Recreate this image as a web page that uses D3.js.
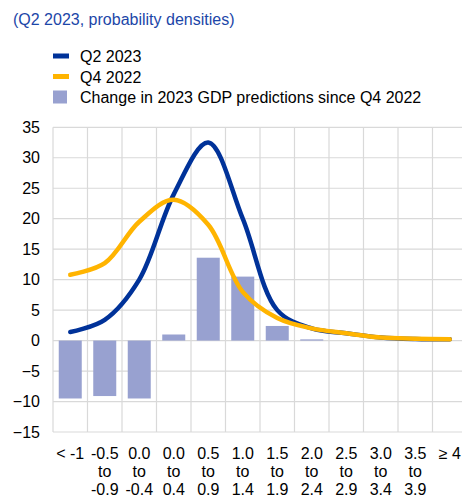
<!DOCTYPE html>
<html>
<head>
<meta charset="utf-8">
<script src="https://cdn.jsdelivr.net/npm/d3@7"></script>
<style>
  body { margin: 0; background: #fff; }
  text { font-family: "Liberation Sans", Arial, sans-serif; }
</style>
</head>
<body>
<div id="chart"></div>
<script>
// chart data

var categories = [["< -1"], ["-0.5", "to", "-0.9"], ["0.0", "to", "-0.4"], ["0.0", "to", "0.4"],
    ["0.5", "to", "0.9"], ["1.0", "to", "1.4"], ["1.5", "to", "1.9"], ["2.0", "to", "2.4"],
    ["2.5", "to", "2.9"], ["3.0", "to", "3.4"], ["3.5", "to", "3.9"], ["≥ 4"]]
var q2_2023 = [1.4, 3.4, 10.0, 24.0, 32.5, 20.0, 5.0, 2.0, 1.2, 0.5, 0.25, 0.2]
var q4_2022 = [10.8, 12.7, 19.5, 23.1, 19.0, 8.0, 3.7, 2.0, 1.2, 0.5, 0.3, 0.2]
var change = [-9.5, -9.1, -9.5, 1.0, 13.6, 10.5, 2.4, 0.2, 0, 0, 0, 0]
var yTicks = [35, 30, 25, 20, 15, 10, 5, 0, -5, -10, -15]

var legendItems = [
    {label: "Q2 2023", type: "line", color: "#003299"},
    {label: "Q4 2022", type: "line", color: "#FFB400"},
    {label: "Change in 2023 GDP predictions since Q4 2022", type: "bar", color: "#98A1D0"}
]

//setup SVG

var w = 462
var h = 497
var fs = 16

var svg = d3.select("#chart")
    .append("svg")
    .attr("width", w)
    .attr("height", h)

var plotLeft = 53, plotRight = 467, plotTop = 127.3, plotBottom = 432

var x = d3.scaleBand()
    .domain(d3.range(categories.length))
    .range([plotLeft, plotRight])
    .paddingInner(0)

var y = d3.scaleLinear()
    .domain([-15, 35])
    .range([plotBottom, plotTop])

// title
svg.append("text")
    .attr("x", 13)
    .attr("y", 25)
    .attr("fill", "#1c46a8")
    .attr("font-size", fs)
    .text("(Q2 2023, probability densities)")

// legend
var legend = svg.append("g")
legendItems.forEach(function(d, i) {
    var cy = 56 + i * 20.5
    if (d.type == "line") {
        legend.append("rect")
            .attr("x", 53).attr("y", cy - 2.5)
            .attr("width", 16).attr("height", 5)
            .attr("fill", d.color)
    } else {
        legend.append("rect")
            .attr("x", 53).attr("y", cy - 6.5)
            .attr("width", 14).attr("height", 13)
            .attr("fill", d.color)
    }
    legend.append("text")
        .attr("x", 80).attr("y", cy + 6)
        .attr("font-size", fs)
        .attr("fill", "#000")
        .text(d.label)
})

// grid
var grid = svg.append("g")
grid.selectAll(".hgrid")
    .data(yTicks)
    .enter().append("line")
    .attr("x1", plotLeft).attr("x2", plotRight)
    .attr("y1", d => y(d)).attr("y2", d => y(d))
    .attr("stroke", "#d9d9d9")
    .attr("stroke-width", 1.2)

grid.selectAll(".vgrid")
    .data(d3.range(categories.length + 1))
    .enter().append("line")
    .attr("x1", d => plotLeft + d * x.step()).attr("x2", d => plotLeft + d * x.step())
    .attr("y1", plotTop).attr("y2", plotBottom)
    .attr("stroke", "#d9d9d9")
    .attr("stroke-width", 1.2)

// y axis labels
var yAxis = d3.axisLeft(y)
    .tickValues(yTicks)
    .tickSize(0)
    .tickPadding(13)

svg.append("g")
    .attr("transform", "translate(" + plotLeft + ",0)")
    .call(yAxis)
    .call(g => g.select(".domain").remove())
    .selectAll("text")
    .attr("font-size", fs)
    .attr("font-family", "Liberation Sans, Arial, sans-serif")
    .attr("fill", "#000")

// x labels
var xl = svg.append("g")
categories.forEach(function(lines, i) {
    lines.forEach(function(s, j) {
        xl.append("text")
            .attr("x", x(i) + x.bandwidth() / 2)
            .attr("y", 458.5 + j * 18)
            .attr("text-anchor", "middle")
            .attr("font-size", fs)
            .text(s)
    })
})

// bars
var barW = 23
svg.selectAll(".bar")
    .data(change)
    .enter().append("rect")
    .attr("x", (d, i) => x(i) + x.bandwidth() / 2 - barW / 2)
    .attr("width", barW)
    .attr("y", d => y(Math.max(0, d)))
    .attr("height", d => Math.abs(y(d) - y(0)))
    .attr("fill", "#98A1D0")

// lines
var line = d3.line()
    .x((d, i) => x(i) + x.bandwidth() / 2)
    .y(d => y(d))
    .curve(d3.curveCatmullRom.alpha(0.5))

svg.append("path")
    .attr("d", line(q2_2023))
    .attr("fill", "none")
    .attr("stroke", "#003299")
    .attr("stroke-width", 4.5)
    .attr("stroke-linecap", "round")

svg.append("path")
    .attr("d", line(q4_2022))
    .attr("fill", "none")
    .attr("stroke", "#FFB400")
    .attr("stroke-width", 4.5)
    .attr("stroke-linecap", "round")
</script>
</body>
</html>
